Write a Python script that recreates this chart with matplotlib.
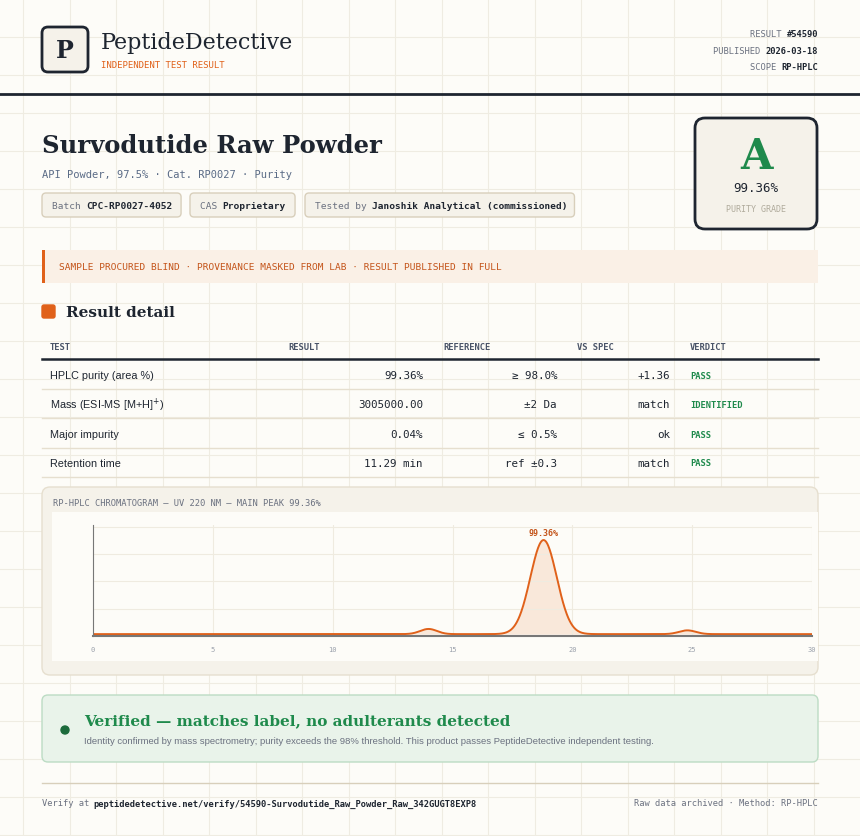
import numpy as np
import matplotlib
matplotlib.use("Agg")
import matplotlib.pyplot as plt
from matplotlib.patches import FancyBboxPatch, Rectangle

# ---- data ----
peak_centers = [14.0, 18.8, 24.8]
peak_heights = [0.055, 1.0, 0.04]
peak_widths = [0.35, 0.55, 0.35]
baseline = 0.02
x_ticks = [0, 5, 10, 15, 20, 25, 30]
main_peak_label = "99.36%"

table_header = ["TEST", "RESULT", "REFERENCE", "VS SPEC", "VERDICT"]
tests = ["HPLC purity (area %)", "Mass (ESI-MS [M+H]$^{+}$)", "Major impurity", "Retention time"]
results = ["99.36%", "3005000.00", "0.04%", "11.29 min"]
references = ["≥ 98.0%", "±2 Da", "≤ 0.5%", "ref ±0.3"]
vs_spec = ["+1.36", "match", "ok", "match"]
verdicts = ["PASS", "IDENTIFIED", "PASS", "PASS"]

SERIF = "DejaVu Serif"
MONO = "DejaVu Sans Mono"
SANS = "Liberation Sans"
DARK = "#1e2530"
ORANGE = "#e0611a"
GREEN = "#1f8a4c"
GREY = "#6b7180"
BG = "#fdfcf8"

fig = plt.figure(figsize=(8.6, 8.37), dpi=100)
fig.patch.set_facecolor(BG)
ax = fig.add_axes([0, 0, 1, 1])
ax.set_xlim(0, 860); ax.set_ylim(837, 0); ax.axis("off")

for gx in np.arange(23, 860, 46.5):
    ax.axvline(gx, color="#efece2", lw=0.8, zorder=0)
for gy in np.arange(38, 837, 38):
    ax.axhline(gy, color="#efece2", lw=0.8, zorder=0)

def rbox(x, y, w, h, fc, ec, lw=1, r=6, z=1):
    ax.add_patch(FancyBboxPatch((x, y), w, h, boxstyle=f"round,pad=0,rounding_size={r}",
                                fc=fc, ec=ec, lw=lw, zorder=z))

# header
rbox(42, 28, 46, 45, "#f5f2ea", DARK, lw=2, r=6)
ax.text(65, 51, "P", family=SERIF, fontsize=17, fontweight="bold", color=DARK, ha="center", va="center", zorder=3)
ax.text(101, 43, "PeptideDetective", family=SERIF, fontsize=16, color=DARK, va="center", zorder=3)
ax.text(101, 65, "INDEPENDENT TEST RESULT", family=MONO, fontsize=6.5, color=ORANGE, va="center", zorder=3)
for yy, lab, val in [(34, "RESULT ", "#54590"), (51, "PUBLISHED ", "2026-03-18"), (67, "SCOPE ", "RP-HPLC")]:
    ax.text(818, yy, val, family=MONO, fontsize=6.3, fontweight="bold", color=DARK, ha="right", va="center", zorder=3)
    ax.text(818 - len(val) * 5.25, yy, lab, family=MONO, fontsize=6.3, color=GREY, ha="right", va="center", zorder=3)
ax.plot([0, 860], [95, 95], color=DARK, lw=2, zorder=2)

# title
ax.text(42, 146, "Survodutide Raw Powder", family=SERIF, fontsize=17.5, fontweight="bold", color=DARK, va="center", zorder=3)
ax.text(42, 175, "API Powder, 97.5% · Cat. RP0027 · Purity", family=MONO, fontsize=7.5, color="#5a6b86", va="center", zorder=3)
cw_px = 5.67
chips = [(42, "Batch ", "CPC-RP0027-4052"), (190, "CAS ", "Proprietary"), (305, "Tested by ", "Janoshik Analytical (commissioned)")]
for cx, lab, val in chips:
    w = (len(lab) + len(val)) * cw_px + 20
    rbox(cx, 194, w, 24, "#f5f2ea", "#d8cfbb", lw=1, r=4)
    ax.text(cx + 10, 206, lab, family=MONO, fontsize=6.8, color=GREY, va="center", zorder=3)
    ax.text(cx + 10 + len(lab) * cw_px, 206, val, family=MONO, fontsize=6.8, fontweight="bold", color=DARK, va="center", zorder=3)

# grade box
rbox(695, 119, 122, 111, "#f5f2ea", DARK, lw=2, r=10)
ax.text(756, 157, "A", family=SERIF, fontsize=30, fontweight="bold", color=GREEN, ha="center", va="center", zorder=3)
ax.text(756, 188, "99.36%", family=MONO, fontsize=9, color=DARK, ha="center", va="center", zorder=3)
ax.text(756, 209, "PURITY GRADE", family=MONO, fontsize=6, color="#b0ab9c", ha="center", va="center", zorder=3)

# banner
ax.add_patch(Rectangle((42, 251), 776, 33, fc="#faf0e6", ec="none", zorder=1))
ax.add_patch(Rectangle((42, 251), 2.5, 33, fc=ORANGE, ec="none", zorder=2))
ax.text(59, 267, "SAMPLE PROCURED BLIND · PROVENANCE MASKED FROM LAB · RESULT PUBLISHED IN FULL",
        family=MONO, fontsize=6.8, color="#c4541a", va="center", zorder=3)

# result detail
rbox(42, 306, 13, 13, ORANGE, ORANGE, r=2)
ax.text(66, 313, "Result detail", family=SERIF, fontsize=11, fontweight="bold", color=DARK, va="center", zorder=3)
hx = [50, 288, 443, 577, 690]
for x, h in zip(hx, table_header):
    ax.text(x, 347, h, family=MONO, fontsize=6.3, fontweight="bold", color="#4a5468", va="center", zorder=3)
ax.plot([42, 818], [360, 360], color=DARK, lw=1.8, zorder=2)
row_y = [376, 405, 435, 464]
for i, ry in enumerate(row_y):
    ax.text(50, ry, tests[i], family=SANS, fontsize=7.8, color=DARK, va="center", zorder=3)
    ax.text(423, ry, results[i], family=MONO, fontsize=7.8, color=DARK, ha="right", va="center", zorder=3)
    ax.text(557, ry, references[i], family=MONO, fontsize=7.8, color=DARK, ha="right", va="center", zorder=3)
    ax.text(670, ry, vs_spec[i], family=MONO, fontsize=7.8, color=DARK, ha="right", va="center", zorder=3)
    ax.text(690, ry, verdicts[i], family=MONO, fontsize=6.3, fontweight="bold", color=GREEN, va="center", zorder=3)
    ax.plot([42, 818], [ry + 14, ry + 14], color="#e6dfcf", lw=1, zorder=2)

# chromatogram panel
rbox(42, 488, 776, 188, "#f5f2ea", "#e6dfcf", lw=1, r=8)
ax.text(53, 503, "RP-HPLC CHROMATOGRAM — UV 220 NM — MAIN PEAK 99.36%", family=MONO, fontsize=6.3, color=GREY, va="center", zorder=3)
ax.add_patch(Rectangle((52, 513), 766, 149, fc=BG, ec="none", zorder=2))

cax = fig.add_axes([93 / 860, 1 - 637 / 837, (812 - 93) / 860, (637 - 526) / 837])
cax.set_facecolor(BG)
xs = np.linspace(0, 30, 1500)
ys = np.full_like(xs, baseline)
for c, h, w in zip(peak_centers, peak_heights, peak_widths):
    ys = ys + h * np.exp(-0.5 * ((xs - c) / w) ** 2)
cax.fill_between(xs, baseline, ys, color="#f8e3d3", alpha=0.8, lw=0)
cax.plot(xs, ys, color=ORANGE, lw=1.4)
cax.set_xlim(0, 30); cax.set_ylim(0, 1.18)
cax.set_xticks(x_ticks)
cax.set_xticklabels([str(t) for t in x_ticks], family=MONO, fontsize=5, color="#9aa0ab")
cax.set_yticks([0.29, 0.58, 0.87, 1.16])
cax.set_yticklabels([])
cax.tick_params(length=0, pad=7)
cax.grid(True, color="#efebe0", lw=0.8)
for s in ["top", "right"]:
    cax.spines[s].set_visible(False)
cax.spines["left"].set_color("#777"); cax.spines["bottom"].set_color("#777")
cax.spines["bottom"].set_linewidth(1.5)
i = int(np.argmax(ys))
cax.annotate(main_peak_label, (xs[i], ys[i]), xytext=(0, 4), textcoords="offset points",
             ha="center", family=MONO, fontsize=6, fontweight="bold", color="#c4541a")

# verified box
rbox(42, 696, 776, 67, "#e9f3ea", "#bcdcc4", lw=1, r=6)
ax.add_patch(plt.Circle((65, 731), 4, color="#1c6b3c", zorder=3))
ax.text(84, 721, "Verified — matches label, no adulterants detected", family=SERIF, fontsize=11, fontweight="bold", color=GREEN, va="center", zorder=3)
ax.text(84, 742, "Identity confirmed by mass spectrometry; purity exceeds the 98% threshold. This product passes PeptideDetective independent testing.",
        family=SANS, fontsize=6.8, color=GREY, va="center", zorder=3)

# footer
ax.plot([42, 818], [784, 784], color="#d8cfbb", lw=1, zorder=2)
ax.text(42, 804, "Verify at ", family=MONO, fontsize=6.3, color=GREY, va="center", zorder=3)
ax.text(93, 804, "peptidedetective.net/verify/54590-Survodutide_Raw_Powder_Raw_342GUGT8EXP8", family=MONO, fontsize=6.3, fontweight="bold", color=DARK, va="center", zorder=3)
ax.text(818, 804, "Raw data archived · Method: RP-HPLC", family=MONO, fontsize=6.3, color=GREY, ha="right", va="center", zorder=3)

fig.savefig("out.png", dpi=100, facecolor=BG)
